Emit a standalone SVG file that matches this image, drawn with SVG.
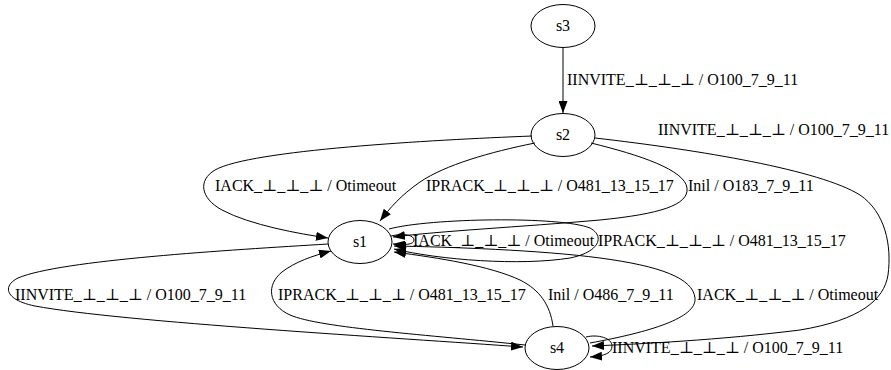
<svg xmlns="http://www.w3.org/2000/svg" width="891" height="370" viewBox="0 0 891 370">
  <style>
    .node ellipse { fill: none; stroke: #000; stroke-width: 1; }
    .node text { font-family: "Liberation Serif", "DejaVu Serif", serif; font-size: 16px; text-anchor: middle; fill: #000; }
    .edges path { fill: none; stroke: #000; stroke-width: 1; marker-end: url(#arrow); }
    .lbl { font-family: "Liberation Serif", "DejaVu Serif", serif; font-size: 16px; fill: #000; }
  </style>
  <defs>
    <marker id="arrow" markerUnits="userSpaceOnUse" markerWidth="12" markerHeight="9" viewBox="0 0 12 9" refX="12" refY="4.5" orient="auto">
      <path d="M0,0 L12,4.5 L0,9 z" fill="#000"/>
    </marker>
  </defs>
  <rect width="891" height="370" fill="#fff"/>

  <g id="nodes">
    <g id="s3" class="node"><ellipse cx="563" cy="26" rx="32" ry="21.5"/><text x="563" y="31">s3</text></g>
    <g id="s2" class="node"><ellipse cx="563" cy="135" rx="32" ry="21.5"/><text x="563" y="140">s2</text></g>
    <g id="s1" class="node"><ellipse cx="360" cy="242" rx="32" ry="21.5"/><text x="360" y="247">s1</text></g>
    <g id="s4" class="node"><ellipse cx="557" cy="348" rx="32" ry="21.5"/><text x="557" y="353">s4</text></g>
  </g>

  <g id="edges" class="edges">
    <!-- s3 -> s2 -->
    <path d="M563,47.5 L563,113"/>
    <!-- s2 -> s1 : IACK -->
    <path d="M532,136 C430,140 250,150 215,170 C198,180 200,198 222,210 C250,225 300,234 328,238"/>
    <!-- s2 -> s1 : IPRACK -->
    <path d="M535,143 C490,152 445,165 420,182 C400,196 390,208 380,221"/>
    <!-- s2 -> s1 : Inil -->
    <path d="M591,143 C640,155 685,170 687,188 C689,205 660,214 600,220 C520,227 440,231 393,237"/>
    <!-- s2 -> s4 : IINVITE -->
    <path d="M595,138 C700,150 820,170 860,195 C885,212 892,245 888,275 C884,300 860,320 800,330 C720,340 640,344 592,346"/>
    <!-- s1 self-loop : IACK -->
    <path d="M391,236 C404,233 414,235 414,240 C414,245 404,245 393,244"/>
    <!-- s1 self-loop : IPRACK -->
    <path d="M389,229 C430,218 560,216 590,228 C605,236 600,252 570,258 C520,266 440,260 394,249"/>
    <!-- s1 -> s4 : IINVITE -->
    <path d="M328,244 C230,250 60,260 18,278 C2,286 5,300 35,306 C120,322 400,338 523,347"/>
    <!-- s4 -> s1 : IPRACK -->
    <path d="M525,345 C430,335 320,328 290,315 C268,305 266,285 282,272 C295,262 312,256 331,251"/>
    <!-- s4 -> s1 : Inil -->
    <path d="M553,326 C550,305 540,290 520,280 C490,266 440,258 394,252"/>
    <!-- s4 -> s1 : IACK -->
    <path d="M590,343 C650,332 697,318 695,298 C693,278 660,266 600,258 C540,250 450,247 394,246"/>
    <!-- s4 self-loop : IINVITE -->
    <path d="M586,337 C598,334 612,338 612,346 C612,353 605,356 590,357"/>
  </g>

  <g id="labels">
    <text class="lbl" x="567" y="85">IINVITE_⊥_⊥_⊥ / O100_7_9_11</text>
    <text class="lbl" x="658" y="135">IINVITE_⊥_⊥_⊥ / O100_7_9_11</text>
    <text class="lbl" x="215" y="191">IACK_⊥_⊥_⊥ / Otimeout</text>
    <text class="lbl" x="426" y="191">IPRACK_⊥_⊥_⊥ / O481_13_15_17</text>
    <text class="lbl" x="688" y="191">Inil / O183_7_9_11</text>
    <text class="lbl" x="413" y="246">IACK_⊥_⊥_⊥ / Otimeout</text>
    <text class="lbl" x="598" y="246">IPRACK_⊥_⊥_⊥ / O481_13_15_17</text>
    <text class="lbl" x="15" y="300">IINVITE_⊥_⊥_⊥ / O100_7_9_11</text>
    <text class="lbl" x="278" y="300">IPRACK_⊥_⊥_⊥ / O481_13_15_17</text>
    <text class="lbl" x="548" y="300">Inil / O486_7_9_11</text>
    <text class="lbl" x="697" y="300">IACK_⊥_⊥_⊥ / Otimeout</text>
    <text class="lbl" x="612" y="353">IINVITE_⊥_⊥_⊥ / O100_7_9_11</text>
  </g>
</svg>
